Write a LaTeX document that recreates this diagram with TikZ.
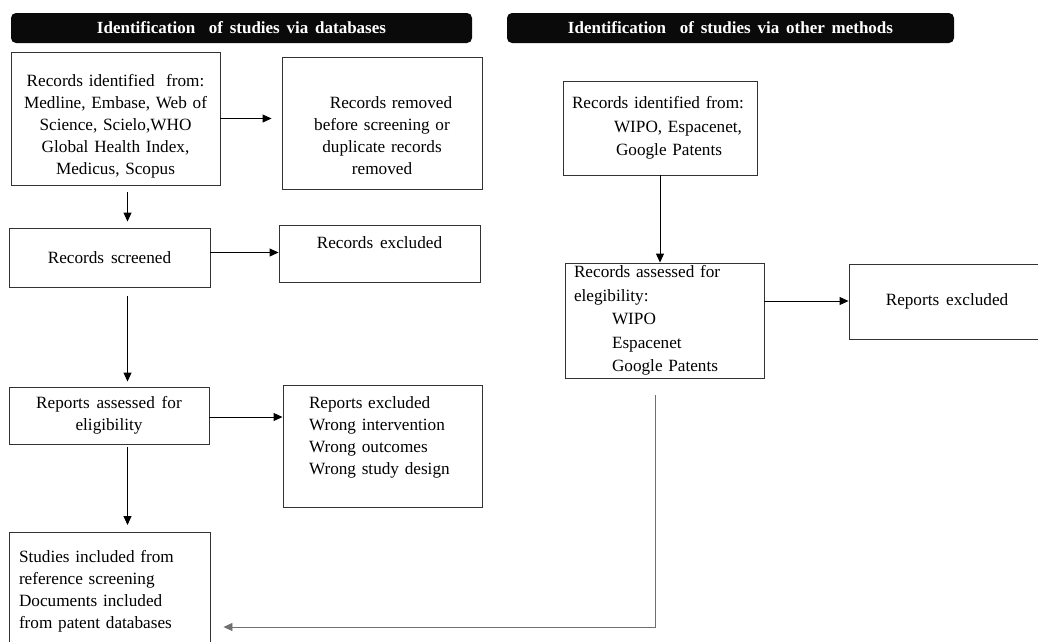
\documentclass[tikz,border=0pt]{standalone}
\usepackage{fontspec}
\setmainfont{Liberation Serif}[WordSpace=1.6]
\usetikzlibrary{arrows.meta,positioning}
\definecolor{boxline}{HTML}{333333}
\definecolor{headfill}{HTML}{0A0A0A}
\definecolor{linkgray}{HTML}{707070}

\begin{document}
\begin{tikzpicture}[
  x=1pt, y=-1pt,
  >={Triangle[length=9pt,width=8pt]},
  box/.style={draw=boxline, line width=0.9pt, inner sep=0pt, align=center, font=\fontsize{17.2}{22}\selectfont},
  header/.style={fill=headfill, rounded corners=5pt, text=white, inner sep=0pt, minimum height=30pt, font=\fontsize{17}{20}\selectfont\bfseries},
  arrow/.style={->, line width=0.9pt, draw=black}
]
  \useasboundingbox (0,0) rectangle (1038,641);

  % Headers
  \node[header, minimum width=461pt] (hdb) at (241.5,28) {Identification\ \ of studies via databases};
  \node[header, minimum width=447pt] (hother) at (730.5,28) {Identification\ \ of studies via other methods};

  % Databases column
  \node[box, minimum width=209pt, minimum height=133pt, text width=189pt] (ident) at (115.5,118.5) {\rule{0pt}{27pt}Records identified\ \ from:\\ Medline, Embase, Web of\\ Science, Scielo,WHO\\ Global Health Index,\\ Medicus, Scopus};
  \node[box, minimum width=200pt, minimum height=132pt, text width=180pt] (removed) at (382,123) {\rule{0pt}{37pt}\hspace*{18pt}Records removed\\ before screening or\\ duplicate records\\ removed};
  \node[box, minimum width=201pt, minimum height=59pt] (screened) at (109.5,257.5) {Records screened};
  \node[box, minimum width=201pt, minimum height=57pt] (recexcl) at (379.5,253.5) {Records excluded\rule[-21pt]{0pt}{21pt}};
  \node[box, minimum width=200pt, minimum height=57pt] (assessed) at (109,415.5) {Reports assessed for\\ eligibility};
  \node[box, minimum width=199pt, minimum height=122pt, text width=147pt, align=left] (repexcl) at (382.5,446) {Reports excluded\\ Wrong intervention\\ Wrong outcomes\\ Wrong study design\rule[-20pt]{0pt}{20pt}};
  \node[box, minimum width=201pt, minimum height=117pt, text width=181pt, align=left, anchor=north] (included) at (109.5,532) {Studies included from\\ reference screening\\ Documents included\\ from patent databases};

  % Other methods column
  \node[box, minimum width=194pt, minimum height=94pt, text width=176pt, align=left, font=\fontsize{17.2}{23.5}\selectfont] (patid) at (660,128) {Records identified from:\\ \hspace*{42pt}WIPO, Espacenet,\\ \hspace*{44pt}Google Patents};
  \node[box, minimum width=199pt, minimum height=115pt, text width=181pt, align=left, font=\fontsize{17.2}{23.5}\selectfont] (patassess) at (664.5,320.5) {Records assessed for\\ elegibility:\\ \hspace*{38pt}WIPO\\ \hspace*{38pt}Espacenet\\ \hspace*{38pt}Google Patents};
  \node[box, minimum width=196pt, minimum height=75pt] (patexcl) at (947,301.5) {Reports excluded};

  % Flow arrows, databases
  \draw[arrow, shorten >=10pt] (ident.east) -- (ident.east -| removed.west);
  \draw[arrow, shorten <=7pt, shorten >=6pt] ([xshift=12pt]ident.south) -- ([xshift=18pt]screened.north);
  \draw[arrow] ([yshift=5pt]screened.east) -- ([yshift=5pt]screened.east -| recexcl.west);
  \draw[arrow, shorten <=9pt, shorten >=5pt] ([xshift=18pt]screened.south) -- ([xshift=18.5pt]assessed.north);
  \draw[arrow] ([yshift=-1.5pt]assessed.east) -- ([yshift=-1.5pt]assessed.east -| repexcl.west);
  \draw[arrow, shorten <=3pt, shorten >=7pt] ([xshift=18.5pt]assessed.south) -- ([xshift=18pt]included.north);

  % Flow arrows, other methods
  \draw[arrow] (patid.south) -- (patid.south |- patassess.north);
  \draw[arrow] ([yshift=19.5pt]patassess.east) -- ([yshift=19.5pt]patassess.east -| patexcl.west);
  \coordinate (bend) at (655,627);
  \draw[arrow, draw=linkgray, shorten <=17pt, shorten >=13pt] (patassess.south -| bend) -- (bend) -- (bend -| included.east);
\end{tikzpicture}
\end{document}
